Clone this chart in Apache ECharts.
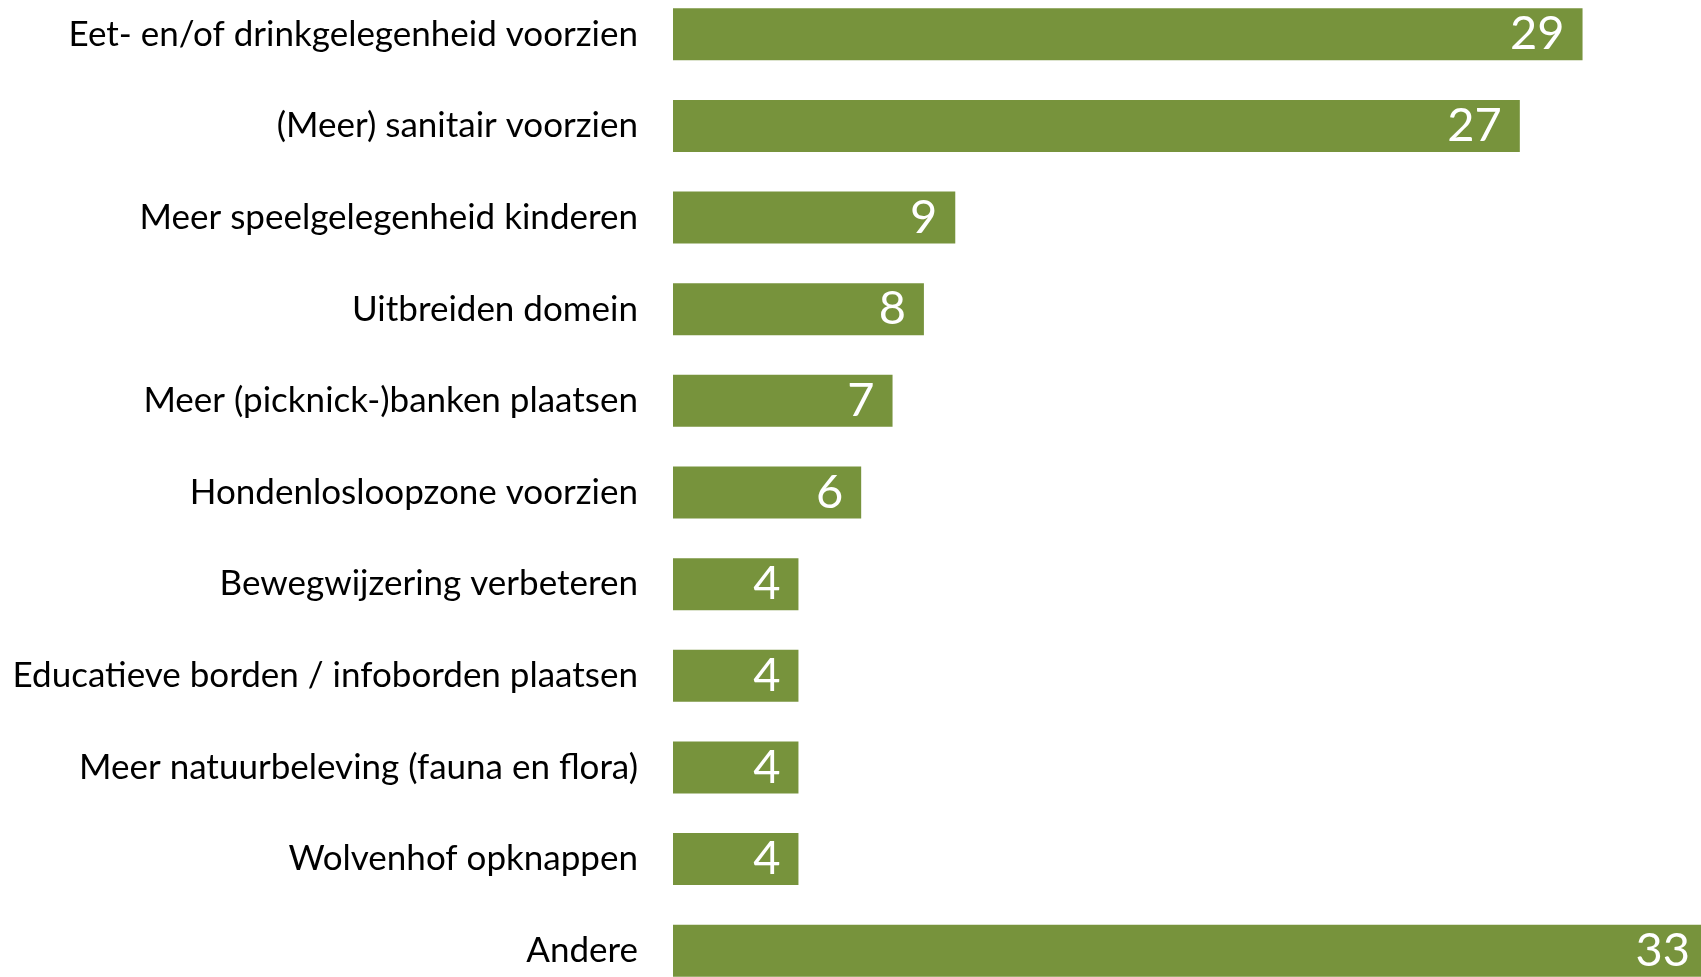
<!DOCTYPE html>
<html>
<head>
<meta charset="utf-8">
<script src="https://cdn.jsdelivr.net/npm/echarts@6/dist/echarts.min.js"></script>
<style>
  html, body { margin: 0; padding: 0; background: #fff; }
  #chart { width: 1701px; height: 977px; }
</style>
</head>
<body>
<div id="chart"></div>
<script>
var categories = [
  'Eet- en/of drinkgelegenheid voorzien',
  '(Meer) sanitair voorzien',
  'Meer speelgelegenheid kinderen',
  'Uitbreiden domein',
  'Meer (picknick-)banken plaatsen',
  'Hondenlosloopzone voorzien',
  'Bewegwijzering verbeteren',
  'Educatieve borden / infoborden plaatsen',
  'Meer natuurbeleving (fauna en flora)',
  'Wolvenhof opknappen',
  'Andere'
];
var values = [29, 27, 9, 8, 7, 6, 4, 4, 4, 4, 33];

var option = {
  backgroundColor: '#ffffff',
  animation: false,
  grid: {
    left: 673,
    top: -11.5,
    width: 1035,
    height: 1008,
    outerBoundsMode: 'none',
    containLabel: false
  },
  xAxis: {
    type: 'value',
    min: 0,
    max: 33,
    show: false
  },
  yAxis: {
    type: 'category',
    inverse: true,
    data: categories,
    axisLine: { show: false },
    axisTick: { show: false },
    splitLine: { show: false },
    axisLabel: {
      color: '#000000',
      fontFamily: 'Lato',
      fontSize: 35,
      margin: 35
    }
  },
  series: [{
    type: 'bar',
    data: values,
    barWidth: 52,
    itemStyle: { color: '#77933C' },
    label: {
      show: true,
      position: 'insideRight',
      distance: 18,
      color: '#ffffff',
      fontFamily: 'Lato',
      fontSize: 47
    }
  }]
};

var myChart = echarts.init(document.getElementById('chart'));
myChart.setOption(option);
</script>
</body>
</html>
